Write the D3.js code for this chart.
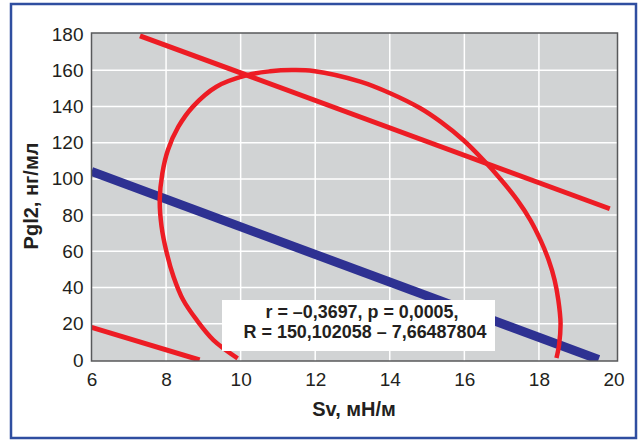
<!DOCTYPE html>
<html lang="ru">
<head>
<meta charset="utf-8">
<title>Pgl2 vs Sv</title>
<style>
body { margin: 0; background: #fff; }
svg { display: block; font-family: "Liberation Sans", Arial, sans-serif; }
.tick text { font-size: 19px; fill: #231f20; }
.axis-title { font-size: 20px; font-weight: bold; fill: #231f20; }
.note { font-size: 18.5px; font-weight: bold; fill: #231f20; }
</style>
</head>
<body>
<div id="chart"></div>
<script src="https://cdnjs.cloudflare.com/ajax/libs/d3/7.8.5/d3.min.js"></script>
<script>
// values
var xTicks = [6, 8, 10, 12, 14, 16, 18, 20];
var yTicks = [0, 20, 40, 60, 80, 100, 120, 140, 160, 180];

// regression line R = 150,102058 - 7,66487804 * Sv
var blueLine = [[6, 104.1], [19.6, 0.3]];
// upper and lower red bands
var redUpper = [[7.3, 179], [19.9, 83.5]];
var redLower = [[6, 18], [8.9, 0]];
// red ellipse, points
var ellipsePts = [
	[9.92, 0.9], [9.27, 11.0], [8.82, 22.1], [8.46, 33.1], [8.20, 46.0],
	[8.02, 58.9], [7.88, 73.6], [7.83, 88.3], [7.90, 103.1], [8.05, 116.0],
	[8.33, 128.8], [8.72, 139.9], [9.35, 150.9], [10.2, 157.4], [10.79, 159.4],
	[11.37, 160.1], [11.95, 159.6], [13.21, 153.7], [14.01, 147.3], [14.82, 139.0],
	[15.36, 131.6], [15.97, 121.5], [16.51, 110.4], [16.99, 99.4], [17.42, 88.3],
	[17.77, 77.3], [18.04, 66.3], [18.26, 55.2], [18.42, 44.2], [18.52, 33.1],
	[18.58, 20.4], [18.54, 8.3], [18.47, 1.1]
];
var noteLines = ["r = \u20130,3697, p = 0,0005,", "R = 150,102058 \u2013 7,66487804"];
var xTitle = "Sv, мН/м";
var yTitle = "Pgl2, нг/мл";

var W = 640, H = 441;
var svg = d3.select("#chart").append("svg")
	.attr("width", W).attr("height", H)
	.attr("viewBox", "0 0 " + W + " " + H);

// outer blue frame
svg.append("rect")
	.attr("x", 11).attr("y", 4).attr("width", 625).attr("height", 434)
	.attr("fill", "none").attr("stroke", "#2f4ea0").attr("stroke-width", 2.5);

var x = d3.scaleLinear().domain([6, 20]).range([91.5, 613.5]);
var y = d3.scaleLinear().domain([0, 180]).range([360, 34]);

// plot background
svg.append("rect")
	.attr("x", 91.5).attr("y", 33).attr("width", 526).attr("height", 328)
	.attr("fill", "#d1d3d4");

// grid
var grid = svg.append("g");
grid.selectAll(".vg").data(xTicks.slice(1, -1)).enter().append("line")
	.attr("x1", function(d) { return x(d); }).attr("x2", function(d) { return x(d); })
	.attr("y1", 33).attr("y2", 361)
	.attr("stroke", "#fff").attr("stroke-width", 1.5);
grid.selectAll(".hg").data(yTicks.slice(1, -1)).enter().append("line")
	.attr("x1", 91.5).attr("x2", 617.5)
	.attr("y1", function(d) { return y(d); }).attr("y2", function(d) { return y(d); })
	.attr("stroke", "#fff").attr("stroke-width", 1.5);

svg.append("clipPath").attr("id", "plotclip").append("rect")
	.attr("x", 91.5).attr("y", 33).attr("width", 526).attr("height", 328);

var line = d3.line().x(function(d) { return x(d[0]); }).y(function(d) { return y(d[1]); });
var marks = svg.append("g").attr("clip-path", "url(#plotclip)");

marks.append("path").attr("d", line(blueLine))
	.attr("fill", "none").attr("stroke", "#2e3192").attr("stroke-width", 9);
marks.append("path").attr("d", line(redUpper))
	.attr("fill", "none").attr("stroke", "#ed1c24").attr("stroke-width", 5);
marks.append("path").attr("d", line(redLower))
	.attr("fill", "none").attr("stroke", "#ed1c24").attr("stroke-width", 5);
marks.append("path").attr("d", line.curve(d3.curveCatmullRom.alpha(0.5))(ellipsePts))
	.attr("fill", "none").attr("stroke", "#ed1c24").attr("stroke-width", 4.5);

// plot frame
svg.append("rect")
	.attr("x", 91.5).attr("y", 33).attr("width", 526).attr("height", 328)
	.attr("fill", "none").attr("stroke", "#58595b").attr("stroke-width", 1.5);

// axes (labels only)
var xAxis = svg.append("g").attr("transform", "translate(0,360)")
	.call(d3.axisBottom(x).tickValues(xTicks).tickSize(0).tickPadding(12.5));
var yAxis = svg.append("g").attr("transform", "translate(91.5,0)")
	.call(d3.axisLeft(y).tickValues(yTicks).tickSize(0).tickPadding(8));
xAxis.select(".domain").remove();
yAxis.select(".domain").remove();
svg.selectAll(".tick text").attr("font-family", null).attr("font-size", null);

// annotation box
svg.append("rect")
	.attr("x", 222).attr("y", 300).attr("width", 273).attr("height", 51)
	.attr("fill", "#fff");
svg.append("text").attr("class", "note")
	.attr("x", 362).attr("y", 318).attr("text-anchor", "middle")
	.attr("textLength", 193).attr("lengthAdjust", "spacingAndGlyphs")
	.text(noteLines[0]);
svg.append("text").attr("class", "note")
	.attr("x", 365).attr("y", 338).attr("text-anchor", "middle")
	.attr("textLength", 243).attr("lengthAdjust", "spacingAndGlyphs")
	.text(noteLines[1]);

// axis titles
svg.append("text").attr("class", "axis-title")
	.attr("x", 354).attr("y", 416).attr("text-anchor", "middle")
	.text(xTitle);
svg.append("text").attr("class", "axis-title")
	.attr("transform", "translate(38,196) rotate(-90)")
	.attr("text-anchor", "middle")
	.text(yTitle);
</script>
</body>
</html>
